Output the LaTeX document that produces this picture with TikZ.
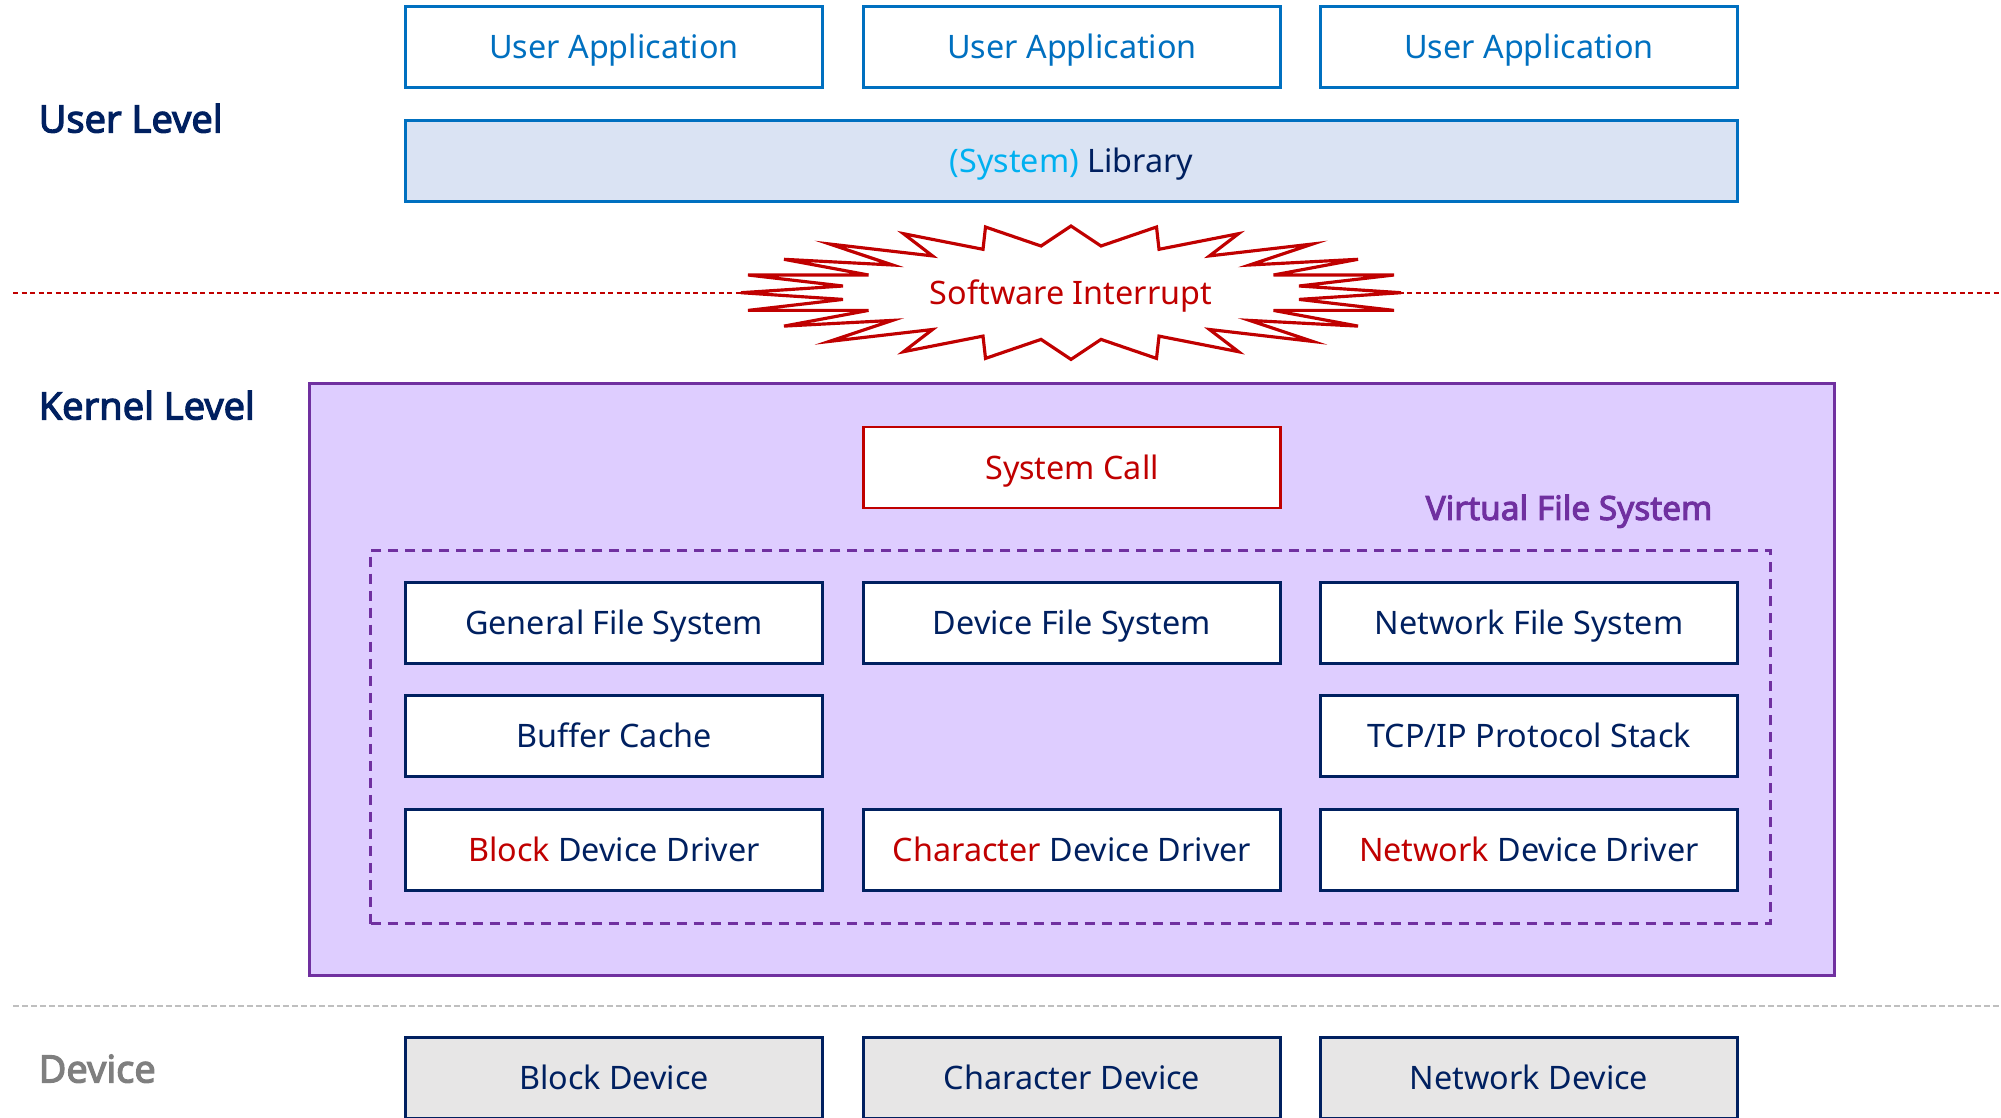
\documentclass[tikz,border=0pt]{standalone}
\usepackage{fontspec}
\setmainfont{Noto Sans}[BoldFont={Noto Sans}, BoldFeatures={FakeBold=3}]

\definecolor{ublue}{RGB}{0,112,192}
\definecolor{libfill}{RGB}{218,227,243}
\definecolor{sysblue}{RGB}{0,176,240}
\definecolor{navy}{RGB}{0,32,96}
\definecolor{intred}{RGB}{192,0,0}
\definecolor{kfill}{RGB}{222,205,255}
\definecolor{vfspurple}{RGB}{112,48,160}
\definecolor{devgray}{RGB}{127,127,127}
\definecolor{devfill}{RGB}{231,230,230}
\definecolor{linegray}{RGB}{191,191,191}

\begin{document}
\begin{tikzpicture}[
	box/.style={draw=navy, fill=white, line width=0.8pt, minimum width=4.17cm, minimum height=0.81cm, inner sep=0pt, text height=6.6pt, text depth=0pt, text=navy, font=\fontsize{9.2}{11}\selectfont},
	appbox/.style={box, draw=ublue, text=ublue},
	devbox/.style={box, fill=devfill},
	level/.style={anchor=west, inner sep=0pt, text height=7.7pt, text depth=0pt, text=navy, font=\fontsize{10.8}{12}\selectfont\bfseries}]
	
	\useasboundingbox (0,0) rectangle (20.01,-11.17);
	\clip (0,0) rectangle (20.01,-11.17);
	
	% Ebenen
	\node[level] (userlvl) at (0.38,-1.19) {User Level};
	\node[level] (kernellvl) at (0.38,-4.06) {Kernel Level};
	\node[level, text=devgray] (devlvl) at (0.38,-10.69) {Device};
	
	% Anwendungen und Bibliothek
	\node[appbox] (app1) at (6.14,-0.47) {User Application};
	\node[appbox] (app2) at (10.72,-0.47) {User Application};
	\node[appbox] (app3) at (15.29,-0.47) {User Application};
	\node[appbox, fill=libfill, text=navy, minimum width=13.32cm] (lib) at (10.715,-1.61) {\textcolor{sysblue}{(System)} Library};
	
	% Grenze User/Kernel
	\draw[intred, line width=0.8pt, dash pattern=on 0.05cm off 0.035cm] (0.13,-2.93) -- (20.01,-2.93);
	\draw[intred, line width=0.9pt, fill=white, line join=miter, shift={(10.71,-2.927)}]
	(3.30,0)
	\foreach \x/\y in {2.28/.067,3.23/.177,2.025/.177,2.87/.334,1.785/.277,2.415/.487,1.385/.368,1.675/.59,.88/.434,.855/.657,.30/.467,0/.667} {-- (\x,\y)}
	\foreach \x/\y in {.30/.467,.855/.657,.88/.434,1.675/.59,1.385/.368,2.415/.487,1.785/.277,2.87/.334,2.025/.177,3.23/.177,2.28/.067,3.30/0} {-- (-\x,\y)}
	\foreach \x/\y in {2.28/.067,3.23/.177,2.025/.177,2.87/.334,1.785/.277,2.415/.487,1.385/.368,1.675/.59,.88/.434,.855/.657,.30/.467,0/.667} {-- (-\x,-\y)}
	\foreach \x/\y in {.30/.467,.855/.657,.88/.434,1.675/.59,1.385/.368,2.415/.487,1.785/.277,2.87/.334,2.025/.177,3.23/.177,2.28/.067} {-- (\x,-\y)}
	-- cycle;
	\node[text=intred, text height=6.6pt, text depth=0pt, font=\fontsize{9.2}{11}\selectfont] (swi) at (10.71,-2.927) {Software Interrupt};
	
	% Kernel
	\node[draw=vfspurple, fill=kfill, line width=0.8pt, minimum width=15.25cm, minimum height=5.92cm, inner sep=0pt] (kernel) at (10.72,-6.795) {};
	\node[box, draw=intred, text=intred] (syscall) at (10.72,-4.675) {System Call};
	\node[draw=vfspurple, line width=0.8pt, dash pattern=on 0.1cm off 0.07cm, minimum width=14.0cm, minimum height=3.73cm, inner sep=0pt] (vfsbox) at (10.705,-7.37) {};
	\node[text=vfspurple, text height=6.8pt, text depth=0pt, font=\fontsize{9.5}{11}\selectfont\bfseries] (vfs) at (15.69,-5.08) {Virtual File System};
	
	\node[box] (gfs) at (6.14,-6.23) {General File System};
	\node[box] (dfs) at (10.72,-6.23) {Device File System};
	\node[box] (nfs) at (15.29,-6.23) {Network File System};
	\node[box] (cache) at (6.14,-7.36) {Buffer Cache};
	\node[box] (tcpip) at (15.29,-7.36) {TCP/IP Protocol Stack};
	\node[box] (bdd) at (6.14,-8.50) {\textcolor{intred}{Block} Device Driver};
	\node[box] (cdd) at (10.72,-8.50) {\textcolor{intred}{Character} Device Driver};
	\node[box] (ndd) at (15.29,-8.50) {\textcolor{intred}{Network} Device Driver};
	
	% Grenze Kernel/Device
	\draw[linegray, line width=0.7pt, dash pattern=on 0.06cm off 0.03cm] (0.13,-10.06) -- (20.01,-10.06);
	
	% Geraete
	\node[devbox] (bdev) at (6.14,-10.78) {Block Device};
	\node[devbox] (cdev) at (10.72,-10.78) {Character Device};
	\node[devbox] (ndev) at (15.29,-10.78) {Network Device};
	
\end{tikzpicture}
\end{document}
